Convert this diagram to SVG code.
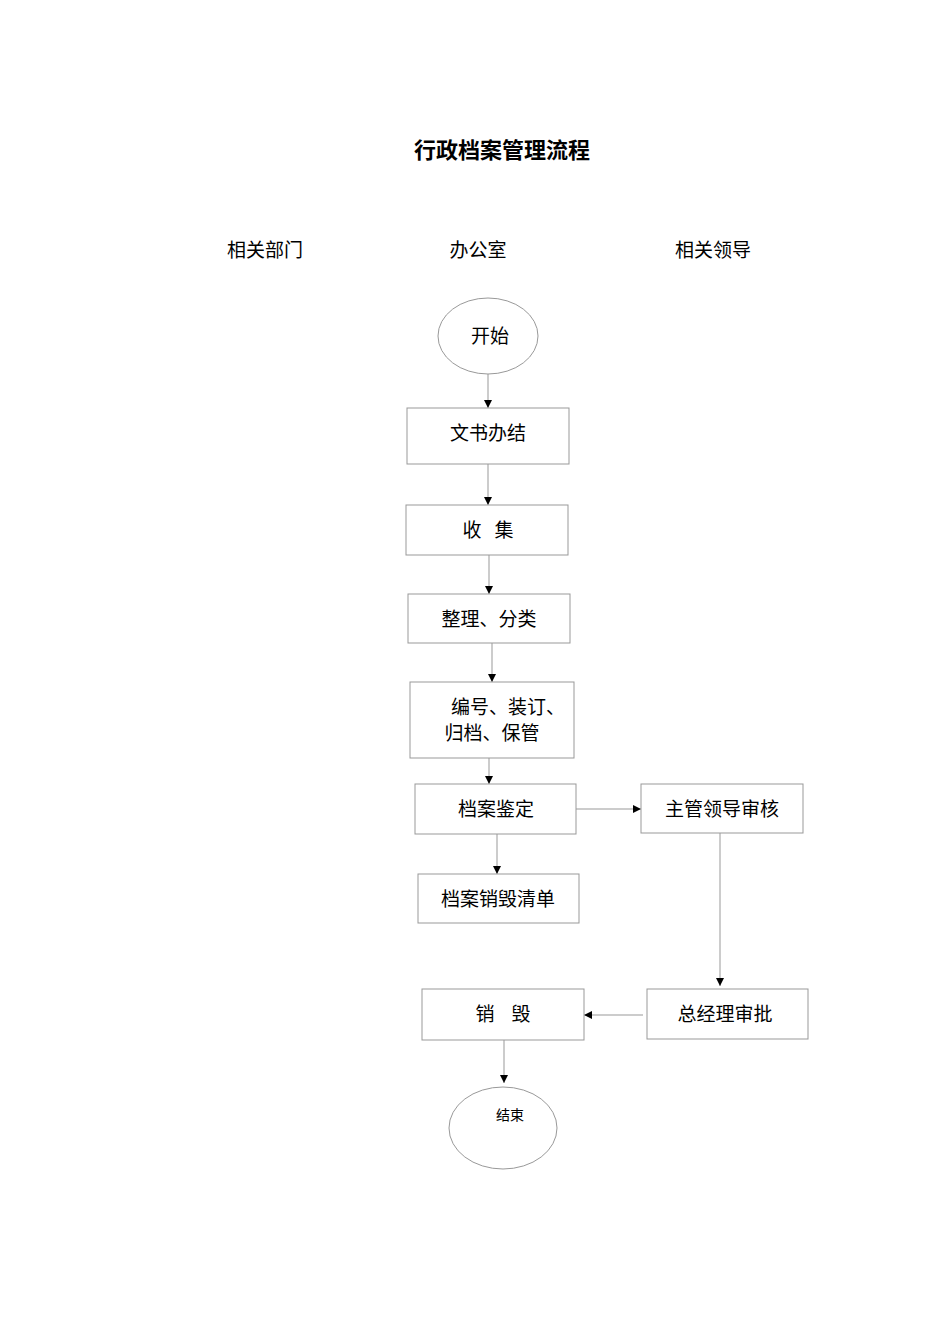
<svg xmlns="http://www.w3.org/2000/svg" width="950" height="1344" viewBox="0 0 950 1344">
<style>
text{font-family:"Noto Sans CJK SC","Liberation Serif",sans-serif;fill:#000;text-anchor:middle}
.n{fill:#fff;stroke:#999;stroke-width:1}
.t{font-size:19px}
.c{stroke:#999;stroke-width:1;fill:none;marker-end:url(#a)}
</style>
<defs><marker id="a" viewBox="0 0 10 10" refX="10" refY="5" markerWidth="8" markerHeight="8" markerUnits="userSpaceOnUse" orient="auto"><path d="M0,0L10,5L0,10z" fill="#000"/></marker></defs>
<rect width="950" height="1344" fill="#fff"/>
<text x="502" y="158" font-size="22" font-weight="bold">行政档案管理流程</text>
<text class="t" x="265" y="257">相关部门</text>
<text class="t" x="478" y="257">办公室</text>
<text class="t" x="713" y="257">相关领导</text>
<g id="connectors">
<path class="c" d="M488,374V408"/>
<path class="c" d="M488,464V505"/>
<path class="c" d="M489,555V594"/>
<path class="c" d="M492,643V682"/>
<path class="c" d="M489,758V784"/>
<path class="c" d="M576,809H641"/>
<path class="c" d="M497,834V874"/>
<path class="c" d="M720,833V986"/>
<path class="c" d="M643,1015H584"/>
<path class="c" d="M504,1040V1083"/>
</g>
<g id="start"><ellipse class="n" cx="488" cy="336" rx="50" ry="38"/><text class="t" x="490" y="343">开始</text></g>
<g id="n1"><rect class="n" x="407" y="408" width="162" height="56"/><text class="t" x="488" y="440">文书办结</text></g>
<g id="n2"><rect class="n" x="406" y="505" width="162" height="50"/><text class="t" x="488" y="537" xml:space="preserve">收   集</text></g>
<g id="n3"><rect class="n" x="408" y="594" width="162" height="49"/><text class="t" x="489" y="626">整理、分类</text></g>
<g id="n4"><rect class="n" x="410" y="682" width="164" height="76"/><text class="t" x="508" y="714">编号、装订、</text><text class="t" x="492" y="740">归档、保管</text></g>
<g id="n5"><rect class="n" x="415" y="784" width="161" height="50"/><text class="t" x="496" y="816">档案鉴定</text></g>
<g id="n6"><rect class="n" x="641" y="784" width="162" height="49"/><text class="t" x="722" y="816">主管领导审核</text></g>
<g id="n7"><rect class="n" x="418" y="874" width="161" height="49"/><text class="t" x="498" y="906">档案销毁清单</text></g>
<g id="n8"><rect class="n" x="647" y="989" width="161" height="50"/><text class="t" x="725" y="1021">总经理审批</text></g>
<g id="n9"><rect class="n" x="422" y="989" width="162" height="51"/><text class="t" x="503" y="1021" xml:space="preserve">销    毁</text></g>
<g id="end"><ellipse class="n" cx="503" cy="1128" rx="54" ry="41"/><text x="510" y="1120" font-size="14">结束</text></g>
</svg>
